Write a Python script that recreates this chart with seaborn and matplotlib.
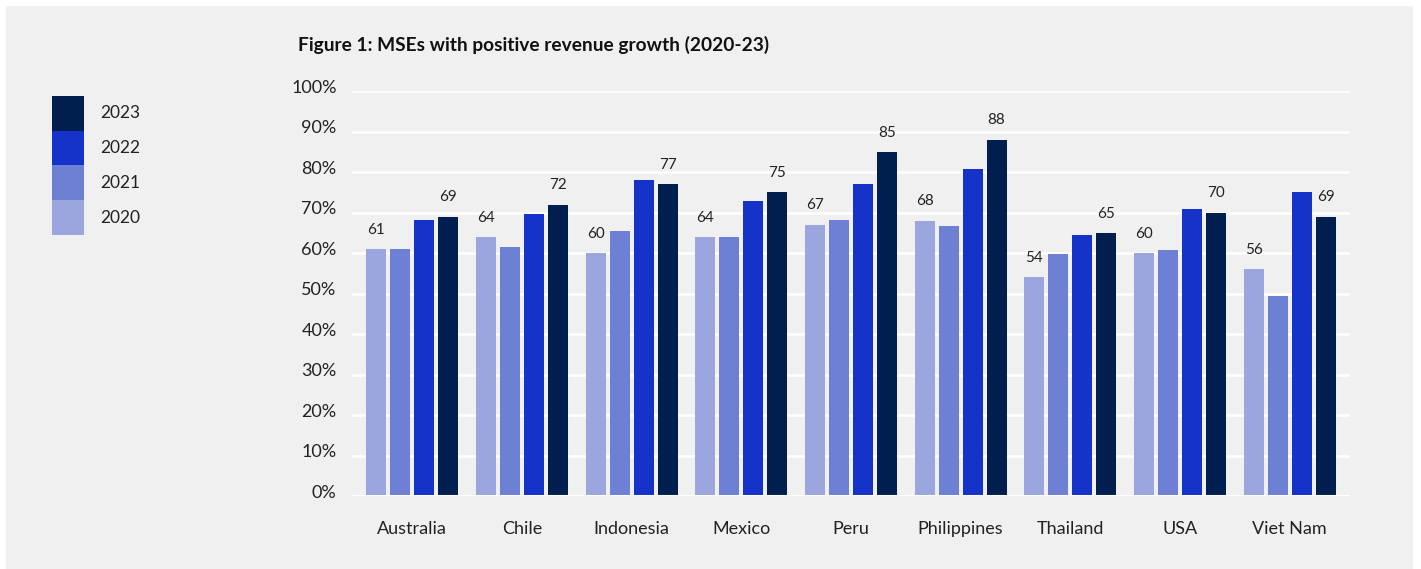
import matplotlib
matplotlib.use("Agg")
import matplotlib.pyplot as plt
import matplotlib.transforms as mtransforms
from matplotlib.patches import Rectangle
import seaborn as sns
import pandas as pd

countries = ["Australia", "Chile", "Indonesia", "Mexico", "Peru",
             "Philippines", "Thailand", "USA", "Viet Nam"]
years = ["2020", "2021", "2022", "2023"]
v2020 = [61, 64, 60, 64, 67, 68, 54, 60, 56]
v2021 = [61, 61.6, 65.6, 63.9, 68.1, 66.8, 59.9, 60.9, 49.3]
v2022 = [68.3, 69.8, 78, 73, 77, 80.9, 64.6, 70.8, 75]
v2023 = [69, 72, 77, 75, 85, 88, 65, 70, 69]
labelled_years = ["2020", "2023"]
yticks = [0, 10, 20, 30, 40, 50, 60, 70, 80, 90, 100]
palette = ["#9ca6de", "#6e80d4", "#1533c9", "#001f4f"]

series = {"2020": v2020, "2021": v2021, "2022": v2022, "2023": v2023}
df = pd.DataFrame([
    {"country": c, "year": y, "value": series[y][i]}
    for y in years for i, c in enumerate(countries)
])

sns.set_theme(style="white")
plt.rcParams["font.family"] = ["Lato", "DejaVu Sans"]

W, H = 1421, 569
fig = plt.figure(figsize=(W / 100, H / 100), dpi=100)
fig.patch.set_facecolor("white")
fig.patches.append(Rectangle((6 / W, 0), (1413 - 6) / W, (H - 6) / H,
                             transform=fig.transFigure, facecolor="#f0f0f0",
                             edgecolor="none", zorder=-10))

ax = fig.add_axes([352 / W, 1 - 496 / H, (1350 - 352) / W, (496 - 91.3) / H])
ax.set_facecolor("none")

sns.barplot(data=df, x="country", y="value", hue="year", order=countries,
            hue_order=years, palette=palette, width=0.873, gap=0.16,
            saturation=1, legend=False, linewidth=0, ax=ax, zorder=3)

# value labels above the first and last series of each group
for cont, yr in zip(ax.containers, years):
    if yr in labelled_years:
        vals = [f"{v:.0f}" for v in series[yr]]
        for bar, txt in zip(cont, vals):
            ax.annotate(txt, (bar.get_x() + bar.get_width() / 2, bar.get_height()),
                        xytext=(0, 14), textcoords="offset points",
                        ha="center", va="center", fontsize=11,
                        color="#222222", clip_on=False)

ax.set_ylim(0, 100)
ax.set_xlim(-0.55, 8.55)
ax.set_yticks(yticks)
ax.set_yticklabels([f"{t}%" for t in yticks])
ax.grid(axis="y", color="white", linewidth=1.8, zorder=0)
ax.set_axisbelow(True)
for s in ax.spines.values():
    s.set_visible(False)
ax.axhline(0, color="white", linewidth=2.2, zorder=4)
ax.tick_params(axis="both", length=0, labelsize=13, colors="#222222")
ax.tick_params(axis="y", pad=11)
ax.tick_params(axis="x", pad=18)
ax.set_xlabel("")
ax.set_ylabel("")
shift = mtransforms.ScaledTranslation(0, 5 / 100, fig.dpi_scale_trans)
for lbl in ax.get_yticklabels():
    lbl.set_transform(lbl.get_transform() + shift)

fig.text(298 / W, 1 - 45 / H, "Figure 1: MSEs with positive revenue growth (2020-23)",
         ha="left", va="center", fontsize=13.75, fontweight="bold", color="#111111")

# stacked colour key on the left
top, step = 96, 34.75
for i, (yr, col) in enumerate(zip(reversed(years), reversed(palette))):
    y0 = top + i * step
    fig.patches.append(Rectangle((52 / W, 1 - (y0 + step) / H), 32 / W, step / H,
                                 transform=fig.transFigure, facecolor=col,
                                 edgecolor="none"))
    fig.text(100 / W, 1 - (y0 + step / 2) / H, yr, ha="left", va="center",
             fontsize=12.5, color="#222222")

fig.savefig("out.png", dpi=100)
